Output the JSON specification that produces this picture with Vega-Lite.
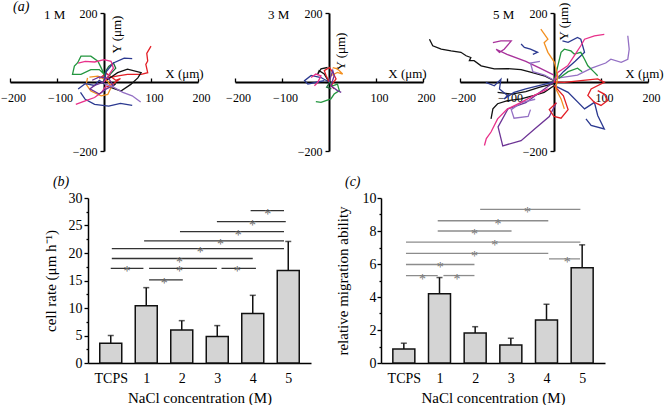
{
  "$schema": "https://vega.github.io/schema/vega-lite/v6.json",
  "padding": {"left": 0, "top": -1, "right": 0, "bottom": 0},
  "bounds": "flush",
  "spacing": 185,
  "config": {
    "view": {"stroke": null},
    "font": "Liberation Serif",
    "axis": {"labelFont": "Liberation Serif", "titleFont": "Liberation Serif", "domainColor": "#000", "tickColor": "#000", "labelColor": "#000", "titleColor": "#000", "grid": false, "titleFontWeight": "normal", "labelOverlap": false, "labelFlush": false, "labelBound": false},
    "text": {"font": "Liberation Serif", "color": "#000"}
  },
  "datasets": {
    "m1": [
      {"t":"r1","k":0,"x":0,"y":0,"c":"red"},{"t":"r1","k":1,"x":8,"y":12,"c":"red"},{"t":"r1","k":2,"x":30,"y":18,"c":"red"},{"t":"r1","k":3,"x":50,"y":22,"c":"red"},{"t":"r1","k":4,"x":79,"y":22,"c":"red"},{"t":"r1","k":5,"x":93,"y":27,"c":"red"},{"t":"r1","k":6,"x":89,"y":51,"c":"red"},{"t":"r1","k":7,"x":93,"y":61,"c":"red"},{"t":"r1","k":8,"x":91,"y":83,"c":"red"},{"t":"r1","k":9,"x":100,"y":104,"c":"red"},
      {"t":"r2","k":0,"x":-10,"y":10,"c":"red"},{"t":"r2","k":1,"x":5,"y":25,"c":"red"},{"t":"r2","k":2,"x":15,"y":15,"c":"red"},{"t":"r2","k":3,"x":25,"y":5,"c":"red"},{"t":"r2","k":4,"x":35,"y":10,"c":"red"},{"t":"r2","k":5,"x":20,"y":-5,"c":"red"},{"t":"r2","k":6,"x":5,"y":-15,"c":"red"},
      {"t":"g1","k":0,"x":4,"y":12,"c":"green"},{"t":"g1","k":1,"x":-6,"y":41,"c":"green"},{"t":"g1","k":2,"x":-13,"y":60,"c":"green"},{"t":"g1","k":3,"x":-28,"y":75,"c":"green"},{"t":"g1","k":4,"x":-49,"y":75,"c":"green"},{"t":"g1","k":5,"x":-56,"y":56,"c":"green"},{"t":"g1","k":6,"x":-63,"y":46,"c":"green"},{"t":"g1","k":7,"x":-67,"y":22,"c":"green"},{"t":"g1","k":8,"x":-49,"y":22,"c":"green"},{"t":"g1","k":9,"x":-28,"y":36,"c":"green"},{"t":"g1","k":10,"x":-10,"y":36,"c":"green"},{"t":"g1","k":11,"x":1,"y":22,"c":"green"},
      {"t":"g2","k":0,"x":0,"y":5,"c":"dgreen"},{"t":"g2","k":1,"x":3,"y":30,"c":"dgreen"},{"t":"g2","k":2,"x":10,"y":45,"c":"dgreen"},{"t":"g2","k":3,"x":20,"y":55,"c":"dgreen"},{"t":"g2","k":4,"x":25,"y":40,"c":"dgreen"},{"t":"g2","k":5,"x":15,"y":25,"c":"dgreen"},{"t":"g2","k":6,"x":8,"y":15,"c":"dgreen"},
      {"t":"k1","k":0,"x":0,"y":0,"c":"black"},{"t":"k1","k":1,"x":29,"y":27,"c":"black"},{"t":"k1","k":2,"x":50,"y":37,"c":"black"},{"t":"k1","k":3,"x":79,"y":27,"c":"black"},{"t":"k1","k":4,"x":72,"y":12,"c":"black"},{"t":"k1","k":5,"x":57,"y":-7,"c":"black"},{"t":"k1","k":6,"x":36,"y":-26,"c":"black"},{"t":"k1","k":7,"x":15,"y":-16,"c":"black"},{"t":"k1","k":8,"x":25,"y":-5,"c":"black"},
      {"t":"o1","k":0,"x":-35,"y":12,"c":"orange"},{"t":"o1","k":1,"x":-38,"y":-7,"c":"orange"},{"t":"o1","k":2,"x":-28,"y":-26,"c":"orange"},{"t":"o1","k":3,"x":-6,"y":-40,"c":"orange"},{"t":"o1","k":4,"x":8,"y":-36,"c":"orange"},{"t":"o1","k":5,"x":15,"y":-16,"c":"orange"},{"t":"o1","k":6,"x":8,"y":3,"c":"orange"},{"t":"o1","k":7,"x":-13,"y":17,"c":"orange"},{"t":"o1","k":8,"x":-31,"y":14,"c":"orange"},
      {"t":"b1","k":0,"x":-50,"y":-30,"c":"blue"},{"t":"b1","k":1,"x":-40,"y":-50,"c":"blue"},{"t":"b1","k":2,"x":-20,"y":-65,"c":"blue"},{"t":"b1","k":3,"x":10,"y":-70,"c":"blue"},{"t":"b1","k":4,"x":35,"y":-62,"c":"blue"},{"t":"b1","k":5,"x":60,"y":-68,"c":"blue"},
      {"t":"b2","k":0,"x":0,"y":0,"c":"blue"},{"t":"b2","k":1,"x":5,"y":30,"c":"blue"},{"t":"b2","k":2,"x":20,"y":55,"c":"blue"},{"t":"b2","k":3,"x":43,"y":69,"c":"blue"},{"t":"b2","k":4,"x":60,"y":68,"c":"blue"},
      {"t":"b3","k":0,"x":-55,"y":-20,"c":"blue"},{"t":"b3","k":1,"x":-40,"y":-5,"c":"blue"},{"t":"b3","k":2,"x":-20,"y":-10,"c":"blue"},{"t":"b3","k":3,"x":-10,"y":5,"c":"blue"},{"t":"b3","k":4,"x":0,"y":-5,"c":"blue"},
      {"t":"p1","k":0,"x":-55,"y":55,"c":"pink"},{"t":"p1","k":1,"x":-40,"y":60,"c":"pink"},{"t":"p1","k":2,"x":-20,"y":58,"c":"pink"},{"t":"p1","k":3,"x":0,"y":65,"c":"pink"},{"t":"p1","k":4,"x":15,"y":60,"c":"pink"},{"t":"p1","k":5,"x":20,"y":40,"c":"pink"},{"t":"p1","k":6,"x":10,"y":20,"c":"pink"},{"t":"p1","k":7,"x":0,"y":0,"c":"pink"},
      {"t":"p2","k":0,"x":-60,"y":-65,"c":"pink"},{"t":"p2","k":1,"x":-40,"y":-55,"c":"pink"},{"t":"p2","k":2,"x":-20,"y":-45,"c":"pink"},{"t":"p2","k":3,"x":-5,"y":-30,"c":"pink"},{"t":"p2","k":4,"x":5,"y":-10,"c":"pink"},
      {"t":"u1","k":0,"x":0,"y":0,"c":"purple"},{"t":"u1","k":1,"x":-20,"y":-10,"c":"purple"},{"t":"u1","k":2,"x":-30,"y":-20,"c":"purple"},{"t":"u1","k":3,"x":-10,"y":-35,"c":"purple"},{"t":"u1","k":4,"x":5,"y":-20,"c":"purple"},{"t":"u1","k":5,"x":20,"y":-10,"c":"purple"},{"t":"u1","k":6,"x":10,"y":10,"c":"purple"},{"t":"u1","k":7,"x":-10,"y":15,"c":"purple"},{"t":"u1","k":8,"x":-25,"y":5,"c":"purple"},
      {"t":"l1","k":0,"x":0,"y":-5,"c":"lavender"},{"t":"l1","k":1,"x":20,"y":-15,"c":"lavender"},{"t":"l1","k":2,"x":40,"y":-30,"c":"lavender"},{"t":"l1","k":3,"x":60,"y":-40,"c":"lavender"},{"t":"l1","k":4,"x":70,"y":-50,"c":"lavender"},{"t":"l1","k":5,"x":78,"y":-58,"c":"lavender"}
    ],
    "m3": [
      {"t":"b1","k":0,"x":0,"y":0,"c":"blue"},{"t":"b1","k":1,"x":-17,"y":13,"c":"blue"},{"t":"b1","k":2,"x":-38,"y":19,"c":"blue"},{"t":"b1","k":3,"x":-52,"y":4,"c":"blue"},{"t":"b1","k":4,"x":-45,"y":-6,"c":"blue"},{"t":"b1","k":5,"x":-24,"y":0,"c":"blue"},{"t":"b1","k":6,"x":-10,"y":4,"c":"blue"},
      {"t":"g1","k":0,"x":0,"y":0,"c":"green"},{"t":"g1","k":1,"x":8,"y":-11,"c":"green"},{"t":"g1","k":2,"x":18,"y":-6,"c":"green"},{"t":"g1","k":3,"x":22,"y":-25,"c":"green"},{"t":"g1","k":4,"x":11,"y":-35,"c":"green"},{"t":"g1","k":5,"x":4,"y":-49,"c":"green"},{"t":"g1","k":6,"x":-17,"y":-59,"c":"green"},{"t":"g1","k":7,"x":-28,"y":-57,"c":"green"},
      {"t":"k1","k":0,"x":0,"y":0,"c":"black"},{"t":"k1","k":1,"x":-10,"y":23,"c":"black"},{"t":"k1","k":2,"x":-21,"y":33,"c":"black"},{"t":"k1","k":3,"x":-24,"y":23,"c":"black"},{"t":"k1","k":4,"x":-17,"y":38,"c":"black"},{"t":"k1","k":5,"x":-3,"y":42,"c":"black"},
      {"t":"o1","k":0,"x":4,"y":18,"c":"orange"},{"t":"o1","k":1,"x":18,"y":28,"c":"orange"},{"t":"o1","k":2,"x":29,"y":23,"c":"orange"},{"t":"o1","k":3,"x":18,"y":38,"c":"orange"},{"t":"o1","k":4,"x":8,"y":42,"c":"orange"},
      {"t":"r1","k":0,"x":0,"y":0,"c":"red"},{"t":"r1","k":1,"x":-6,"y":18,"c":"red"},{"t":"r1","k":2,"x":-10,"y":33,"c":"red"},{"t":"r1","k":3,"x":1,"y":42,"c":"red"},{"t":"r1","k":4,"x":8,"y":28,"c":"red"},{"t":"r1","k":5,"x":15,"y":9,"c":"red"},{"t":"r1","k":6,"x":4,"y":-11,"c":"red"},{"t":"r1","k":7,"x":11,"y":-20,"c":"red"},
      {"t":"p1","k":0,"x":-38,"y":13,"c":"pink"},{"t":"p1","k":1,"x":-28,"y":23,"c":"pink"},{"t":"p1","k":2,"x":-17,"y":18,"c":"pink"},{"t":"p1","k":3,"x":-24,"y":-1,"c":"pink"},{"t":"p1","k":4,"x":-31,"y":-11,"c":"pink"},
      {"t":"u1","k":0,"x":0,"y":0,"c":"purple"},{"t":"u1","k":1,"x":8,"y":33,"c":"purple"},{"t":"u1","k":2,"x":11,"y":18,"c":"purple"},{"t":"u1","k":3,"x":4,"y":-11,"c":"purple"},{"t":"u1","k":4,"x":18,"y":-25,"c":"purple"},{"t":"u1","k":5,"x":26,"y":-30,"c":"purple"},
      {"t":"g2","k":0,"x":0,"y":-5,"c":"dgreen"},{"t":"g2","k":1,"x":-5,"y":-15,"c":"dgreen"},{"t":"g2","k":2,"x":5,"y":-20,"c":"dgreen"}
    ],
    "m5": [
      {"t":"k1","k":0,"x":-265,"y":124,"c":"black"},{"t":"k1","k":1,"x":-258,"y":105,"c":"black"},{"t":"k1","k":2,"x":-240,"y":95,"c":"black"},{"t":"k1","k":3,"x":-219,"y":90,"c":"black"},{"t":"k1","k":4,"x":-198,"y":86,"c":"black"},{"t":"k1","k":5,"x":-187,"y":76,"c":"black"},{"t":"k1","k":6,"x":-177,"y":71,"c":"black"},{"t":"k1","k":7,"x":-180,"y":62,"c":"black"},{"t":"k1","k":8,"x":-170,"y":62,"c":"black"},{"t":"k1","k":9,"x":-155,"y":47,"c":"black"},{"t":"k1","k":10,"x":-127,"y":38,"c":"black"},{"t":"k1","k":11,"x":-99,"y":39,"c":"black"},{"t":"k1","k":12,"x":-70,"y":36,"c":"black"},{"t":"k1","k":13,"x":-42,"y":26,"c":"black"},{"t":"k1","k":14,"x":-21,"y":18,"c":"black"},{"t":"k1","k":15,"x":0,"y":4,"c":"black"},
      {"t":"k2","k":0,"x":-134,"y":-107,"c":"black"},{"t":"k2","k":1,"x":-130,"y":-78,"c":"black"},{"t":"k2","k":2,"x":-120,"y":-63,"c":"black"},{"t":"k2","k":3,"x":-99,"y":-54,"c":"black"},{"t":"k2","k":4,"x":-70,"y":-49,"c":"black"},{"t":"k2","k":5,"x":-42,"y":-39,"c":"black"},{"t":"k2","k":6,"x":-21,"y":-30,"c":"black"},{"t":"k2","k":7,"x":0,"y":-11,"c":"black"},
      {"t":"k3","k":0,"x":-120,"y":-30,"c":"black"},{"t":"k3","k":1,"x":-90,"y":-35,"c":"black"},{"t":"k3","k":2,"x":-60,"y":-28,"c":"black"},{"t":"k3","k":3,"x":-30,"y":-15,"c":"black"},{"t":"k3","k":4,"x":0,"y":-5,"c":"black"},
      {"t":"b1","k":0,"x":-145,"y":-1,"c":"blue"},{"t":"b1","k":1,"x":-127,"y":-11,"c":"blue"},{"t":"b1","k":2,"x":-113,"y":8,"c":"blue"},{"t":"b1","k":3,"x":-116,"y":-20,"c":"blue"},{"t":"b1","k":4,"x":-99,"y":-39,"c":"blue"},{"t":"b1","k":5,"x":-106,"y":-49,"c":"blue"},{"t":"b1","k":6,"x":-85,"y":-30,"c":"blue"},{"t":"b1","k":7,"x":-60,"y":-20,"c":"blue"},{"t":"b1","k":8,"x":-30,"y":-10,"c":"blue"},{"t":"b1","k":9,"x":0,"y":0,"c":"blue"},
      {"t":"b2","k":0,"x":-70,"y":110,"c":"blue"},{"t":"b2","k":1,"x":-63,"y":100,"c":"blue"},{"t":"b2","k":2,"x":-50,"y":95,"c":"blue"},{"t":"b2","k":3,"x":-35,"y":86,"c":"blue"},{"t":"b2","k":4,"x":-45,"y":80,"c":"blue"},
      {"t":"b3","k":0,"x":0,"y":0,"c":"blue"},{"t":"b3","k":1,"x":20,"y":30,"c":"blue"},{"t":"b3","k":2,"x":45,"y":60,"c":"blue"},{"t":"b3","k":3,"x":65,"y":86,"c":"blue"},{"t":"b3","k":4,"x":57,"y":124,"c":"blue"},{"t":"b3","k":5,"x":50,"y":129,"c":"blue"},{"t":"b3","k":6,"x":30,"y":115,"c":"blue"},{"t":"b3","k":7,"x":18,"y":119,"c":"blue"},
      {"t":"b4","k":0,"x":0,"y":-10,"c":"blue"},{"t":"b4","k":1,"x":30,"y":-30,"c":"blue"},{"t":"b4","k":2,"x":65,"y":-78,"c":"blue"},{"t":"b4","k":3,"x":86,"y":-59,"c":"blue"},{"t":"b4","k":4,"x":93,"y":-97,"c":"blue"},{"t":"b4","k":5,"x":107,"y":-136,"c":"blue"},{"t":"b4","k":6,"x":79,"y":-126,"c":"blue"},{"t":"b4","k":7,"x":68,"y":-107,"c":"blue"},
      {"t":"m1","k":0,"x":-130,"y":114,"c":"magenta"},{"t":"m1","k":1,"x":-113,"y":119,"c":"magenta"},{"t":"m1","k":2,"x":-91,"y":119,"c":"magenta"},{"t":"m1","k":3,"x":-106,"y":95,"c":"magenta"},{"t":"m1","k":4,"x":-116,"y":86,"c":"magenta"},{"t":"m1","k":5,"x":-123,"y":95,"c":"magenta"},{"t":"m1","k":6,"x":-100,"y":80,"c":"magenta"},{"t":"m1","k":7,"x":-60,"y":60,"c":"magenta"},{"t":"m1","k":8,"x":-30,"y":40,"c":"magenta"},{"t":"m1","k":9,"x":0,"y":20,"c":"magenta"},
      {"t":"u1","k":0,"x":0,"y":0,"c":"purple"},{"t":"u1","k":1,"x":-30,"y":-30,"c":"purple"},{"t":"u1","k":2,"x":-60,"y":-60,"c":"purple"},{"t":"u1","k":3,"x":-98,"y":-78,"c":"purple"},{"t":"u1","k":4,"x":-119,"y":-130,"c":"purple"},{"t":"u1","k":5,"x":-109,"y":-185,"c":"purple"},{"t":"u1","k":6,"x":-70,"y":-170,"c":"purple"},{"t":"u1","k":7,"x":-40,"y":-135,"c":"purple"},{"t":"u1","k":8,"x":-10,"y":-100,"c":"purple"},{"t":"u1","k":9,"x":5,"y":-60,"c":"purple"},
      {"t":"l2","k":0,"x":-40,"y":-50,"c":"lavender"},{"t":"l2","k":1,"x":-70,"y":-60,"c":"lavender"},{"t":"l2","k":2,"x":-91,"y":-80,"c":"lavender"},{"t":"l2","k":3,"x":-85,"y":-105,"c":"lavender"},{"t":"l2","k":4,"x":-55,"y":-100,"c":"lavender"},{"t":"l2","k":5,"x":-50,"y":-80,"c":"lavender"},
      {"t":"l1","k":0,"x":0,"y":10,"c":"lavender"},{"t":"l1","k":1,"x":50,"y":20,"c":"lavender"},{"t":"l1","k":2,"x":80,"y":40,"c":"lavender"},{"t":"l1","k":3,"x":110,"y":55,"c":"lavender"},{"t":"l1","k":4,"x":121,"y":66,"c":"lavender"},{"t":"l1","k":5,"x":143,"y":57,"c":"lavender"},{"t":"l1","k":6,"x":157,"y":66,"c":"lavender"},{"t":"l1","k":7,"x":160,"y":95,"c":"lavender"},{"t":"l1","k":8,"x":157,"y":134,"c":"lavender"},
      {"t":"l3","k":0,"x":-30,"y":60,"c":"lavender"},{"t":"l3","k":1,"x":-50,"y":55,"c":"lavender"},{"t":"l3","k":2,"x":-45,"y":30,"c":"lavender"},{"t":"l3","k":3,"x":-20,"y":20,"c":"lavender"},{"t":"l3","k":4,"x":0,"y":5,"c":"lavender"},
      {"t":"g1","k":0,"x":0,"y":0,"c":"green"},{"t":"g1","k":1,"x":15,"y":86,"c":"green"},{"t":"g1","k":2,"x":22,"y":95,"c":"green"},{"t":"g1","k":3,"x":36,"y":90,"c":"green"},{"t":"g1","k":4,"x":43,"y":81,"c":"green"},{"t":"g1","k":5,"x":57,"y":86,"c":"green"},{"t":"g1","k":6,"x":65,"y":66,"c":"green"},{"t":"g1","k":7,"x":72,"y":47,"c":"green"},{"t":"g1","k":8,"x":86,"y":28,"c":"green"},{"t":"g1","k":9,"x":93,"y":18,"c":"green"},
      {"t":"g2","k":0,"x":10,"y":10,"c":"green"},{"t":"g2","k":1,"x":30,"y":30,"c":"green"},{"t":"g2","k":2,"x":50,"y":40,"c":"green"},{"t":"g2","k":3,"x":60,"y":30,"c":"green"},
      {"t":"p1","k":0,"x":0,"y":0,"c":"pink"},{"t":"p1","k":1,"x":8,"y":28,"c":"pink"},{"t":"p1","k":2,"x":29,"y":47,"c":"pink"},{"t":"p1","k":3,"x":43,"y":76,"c":"pink"},{"t":"p1","k":4,"x":57,"y":105,"c":"pink"},{"t":"p1","k":5,"x":65,"y":124,"c":"pink"},{"t":"p1","k":6,"x":86,"y":134,"c":"pink"},{"t":"p1","k":7,"x":107,"y":138,"c":"pink"},
      {"t":"p2","k":0,"x":-148,"y":-184,"c":"pink"},{"t":"p2","k":1,"x":-144,"y":-164,"c":"pink"},{"t":"p2","k":2,"x":-134,"y":-145,"c":"pink"},{"t":"p2","k":3,"x":-120,"y":-107,"c":"pink"},{"t":"p2","k":4,"x":-99,"y":-78,"c":"pink"},{"t":"p2","k":5,"x":-70,"y":-59,"c":"pink"},{"t":"p2","k":6,"x":-42,"y":-39,"c":"pink"},{"t":"p2","k":7,"x":-13,"y":-20,"c":"pink"},
      {"t":"r1","k":0,"x":0,"y":0,"c":"red"},{"t":"r1","k":1,"x":22,"y":-1,"c":"red"},{"t":"r1","k":2,"x":57,"y":4,"c":"red"},{"t":"r1","k":3,"x":93,"y":9,"c":"red"},{"t":"r1","k":4,"x":107,"y":-1,"c":"red"},{"t":"r1","k":5,"x":79,"y":-20,"c":"red"},{"t":"r1","k":6,"x":72,"y":-39,"c":"red"},{"t":"r1","k":7,"x":86,"y":-59,"c":"red"},{"t":"r1","k":8,"x":100,"y":-68,"c":"red"},{"t":"r1","k":9,"x":114,"y":-54,"c":"red"},{"t":"r1","k":10,"x":107,"y":-35,"c":"red"},{"t":"r1","k":11,"x":93,"y":-25,"c":"red"},
      {"t":"r2","k":0,"x":0,"y":-10,"c":"red"},{"t":"r2","k":1,"x":20,"y":-40,"c":"red"},{"t":"r2","k":2,"x":30,"y":-80,"c":"red"},{"t":"r2","k":3,"x":15,"y":-105,"c":"red"},{"t":"r2","k":4,"x":0,"y":-100,"c":"red"},{"t":"r2","k":5,"x":-10,"y":-80,"c":"red"},{"t":"r2","k":6,"x":5,"y":-60,"c":"red"},
      {"t":"o1","k":0,"x":-28,"y":153,"c":"orange"},{"t":"o1","k":1,"x":-13,"y":124,"c":"orange"},{"t":"o1","k":2,"x":-21,"y":114,"c":"orange"},{"t":"o1","k":3,"x":-13,"y":86,"c":"orange"},{"t":"o1","k":4,"x":1,"y":57,"c":"orange"},{"t":"o1","k":5,"x":8,"y":18,"c":"orange"},{"t":"o1","k":6,"x":4,"y":-20,"c":"orange"},{"t":"o1","k":7,"x":15,"y":-49,"c":"orange"},{"t":"o1","k":8,"x":22,"y":-78,"c":"orange"}
    ],
    "bbar": [
      {"i":0,"v":3.6,"e":5.0},{"i":1,"v":10.4,"e":13.7},{"i":2,"v":6.0,"e":7.7},{"i":3,"v":4.8,"e":6.8},{"i":4,"v":9.0,"e":12.3},{"i":5,"v":16.8,"e":22.1}
    ],
    "bsig": [
      {"x1":0,"x2":0.92,"y":17.2,"sx":0.46},{"x1":1.08,"x2":2.03,"y":15.1,"sx":1.51},{"x1":1.08,"x2":2.99,"y":17.2,"sx":1.94},{"x1":3.12,"x2":4.09,"y":17.2,"sx":3.56},{"x1":0.03,"x2":4.0,"y":19.0,"sx":1.94},{"x1":0.03,"x2":4.88,"y":20.8,"sx":2.52},{"x1":0.94,"x2":4.88,"y":22.2,"sx":3.09},{"x1":1.95,"x2":4.88,"y":23.9,"sx":3.59},{"x1":2.99,"x2":4.93,"y":25.7,"sx":3.99},{"x1":3.94,"x2":4.88,"y":27.7,"sx":4.42}
    ],
    "cbar": [
      {"i":0,"v":0.85,"e":1.2},{"i":1,"v":4.19,"e":5.18},{"i":2,"v":1.82,"e":2.2},{"i":3,"v":1.09,"e":1.5},{"i":4,"v":2.61,"e":3.56},{"i":5,"v":5.77,"e":7.16}
    ],
    "csig": [
      {"x1":0.06,"x2":0.95,"y":5.3,"sx":0.52},{"x1":1.11,"x2":1.98,"y":5.3,"sx":1.49},{"x1":0.06,"x2":1.98,"y":5.97,"sx":1.02},{"x1":0.06,"x2":4.05,"y":6.64,"sx":1.98},{"x1":0.06,"x2":4.95,"y":7.33,"sx":2.55},{"x1":0.95,"x2":3.02,"y":8.0,"sx":1.98},{"x1":0.95,"x2":4.05,"y":8.62,"sx":2.64},{"x1":2.14,"x2":4.95,"y":9.31,"sx":3.47},{"x1":4.07,"x2":4.94,"y":6.31,"sx":4.58}
    ]
  },
  "vconcat": [
    {
      "bounds": "flush",
      "spacing": 37,
      "hconcat": [
        {
          "width": 188, "height": 138,
          "layer": [
            {"data": {"name": "m1"},
              "mark": {"type": "line", "strokeWidth": 1.3},
              "encoding": {
                "x": {"field": "x", "type": "quantitative", "scale": {"domain": [-200, 200], "nice": false, "zero": false},
                  "axis": {"orient": "bottom", "offset": -69, "values": [-200,-150,-100,-50,0,50,100,150,200], "labelExpr": "datum.value % 100 === 0 && datum.value !== 0 ? format(datum.value, 'd') : ''", "labelOverlap": false, "labelOffset": 3, "tickSize": -4, "tickWidth": 1.3, "domainWidth": 2, "labelPadding": 14, "labelFontSize": 12, "title": "X (μm)", "titleFontSize": 13, "titleX": 174, "titleY": -9, "titleAlign": "center", "titleBaseline": "middle", "titleAngle": 0}},
                "y": {"field": "y", "type": "quantitative", "scale": {"domain": [-200, 200], "nice": false, "zero": false},
                  "axis": {"orient": "left", "offset": -94, "values": [-200,-150,-100,-50,0,50,100,150,200], "labelExpr": "datum.value % 100 === 0 && datum.value !== 0 ? format(datum.value, 'd') : ''", "labelOverlap": false, "tickSize": 4, "tickWidth": 1.3, "domainWidth": 2, "labelPadding": 3, "labelFontSize": 12, "title": "Y (μm)", "titleFontSize": 13, "titleAngle": -90, "titleX": 12, "titleY": 21, "titleAlign": "center", "titleBaseline": "middle"}},
                "detail": {"field": "t"},
                "order": {"field": "k", "type": "quantitative"},
                "color": {"field": "c", "type": "nominal", "legend": null, "scale": {"domain": ["red","green","dgreen","black","orange","blue","pink","purple","lavender","magenta"], "range": ["#e31f26","#23963f","#1d6e3a","#111111","#f39020","#2b3990","#e8318a","#6d3495","#9470c4","#a8329b"]}}
              }},
            {"data": {"values": [{}]}, "mark": {"type": "text", "text": "(a)", "fontSize": 14, "fontStyle": "italic", "align": "left", "baseline": "alphabetic"},
              "encoding": {"x": {"datum": -193.6}, "y": {"datum": 206}}},
            {"data": {"values": [{}]}, "mark": {"type": "text", "text": "1 M", "fontSize": 13, "align": "left", "baseline": "alphabetic"},
              "encoding": {"x": {"datum": -127.7}, "y": {"datum": 182.6}}}
          ]
        },
        {
          "width": 188, "height": 138,
          "layer": [
            {"data": {"name": "m3"},
              "mark": {"type": "line", "strokeWidth": 1.3},
              "encoding": {
                "x": {"field": "x", "type": "quantitative", "scale": {"domain": [-200, 200], "nice": false, "zero": false},
                  "axis": {"orient": "bottom", "offset": -69, "values": [-200,-150,-100,-50,0,50,100,150,200], "labelExpr": "datum.value % 100 === 0 && datum.value !== 0 ? format(datum.value, 'd') : ''", "labelOverlap": false, "labelOffset": 3, "tickSize": -4, "tickWidth": 1.3, "domainWidth": 2, "labelPadding": 14, "labelFontSize": 12, "title": "X (μm)", "titleFontSize": 13, "titleX": 172, "titleY": -9, "titleAlign": "center", "titleBaseline": "middle", "titleAngle": 0}},
                "y": {"field": "y", "type": "quantitative", "scale": {"domain": [-200, 200], "nice": false, "zero": false},
                  "axis": {"orient": "left", "offset": -94, "values": [-200,-150,-100,-50,0,50,100,150,200], "labelExpr": "datum.value % 100 === 0 && datum.value !== 0 ? format(datum.value, 'd') : ''", "labelOverlap": false, "tickSize": 4, "tickWidth": 1.3, "domainWidth": 2, "labelPadding": 3, "labelFontSize": 12, "title": "Y (μm)", "titleFontSize": 13, "titleAngle": -90, "titleX": 11, "titleY": 38, "titleAlign": "center", "titleBaseline": "middle"}},
                "detail": {"field": "t"},
                "order": {"field": "k", "type": "quantitative"},
                "color": {"field": "c", "type": "nominal", "legend": null, "scale": {"domain": ["red","green","dgreen","black","orange","blue","pink","purple","lavender","magenta"], "range": ["#e31f26","#23963f","#1d6e3a","#111111","#f39020","#2b3990","#e8318a","#6d3495","#9470c4","#a8329b"]}}
              }},
            {"data": {"values": [{}]}, "mark": {"type": "text", "text": "3 M", "fontSize": 13, "align": "left", "baseline": "alphabetic"},
              "encoding": {"x": {"datum": -129.8}, "y": {"datum": 182.6}}}
          ]
        },
        {
          "width": 188, "height": 138,
          "layer": [
            {"data": {"name": "m5"},
              "mark": {"type": "line", "strokeWidth": 1.3},
              "encoding": {
                "x": {"field": "x", "type": "quantitative", "scale": {"domain": [-200, 200], "nice": false, "zero": false},
                  "axis": {"orient": "bottom", "offset": -69, "values": [-200,-150,-100,-50,0,50,100,150,200], "labelExpr": "datum.value % 100 === 0 && datum.value !== 0 ? format(datum.value, 'd') : ''", "labelOverlap": false, "labelOffset": 3, "tickSize": -4, "tickWidth": 1.3, "domainWidth": 2, "labelPadding": 14, "labelFontSize": 12, "title": "X (μm)", "titleFontSize": 13, "titleX": 184, "titleY": -9, "titleAlign": "center", "titleBaseline": "middle", "titleAngle": 0}},
                "y": {"field": "y", "type": "quantitative", "scale": {"domain": [-200, 200], "nice": false, "zero": false},
                  "axis": {"orient": "left", "offset": -94, "values": [-200,-150,-100,-50,0,50,100,150,200], "labelExpr": "datum.value % 100 === 0 && datum.value !== 0 ? format(datum.value, 'd') : ''", "labelOverlap": false, "tickSize": 4, "tickWidth": 1.3, "domainWidth": 2, "labelPadding": 3, "labelFontSize": 12, "title": "Y (μm)", "titleFontSize": 13, "titleAngle": -90, "titleX": 9, "titleY": 8, "titleAlign": "center", "titleBaseline": "middle"}},
                "detail": {"field": "t"},
                "order": {"field": "k", "type": "quantitative"},
                "color": {"field": "c", "type": "nominal", "legend": null, "scale": {"domain": ["red","green","dgreen","black","orange","blue","pink","purple","lavender","magenta"], "range": ["#e31f26","#23963f","#1d6e3a","#111111","#f39020","#2b3990","#e8318a","#6d3495","#9470c4","#a8329b"]}}
              }},
            {"data": {"values": [{}]}, "mark": {"type": "text", "text": "5 M", "fontSize": 13, "align": "left", "baseline": "alphabetic"},
              "encoding": {"x": {"datum": -129.8}, "y": {"datum": 182.6}}}
          ]
        }
      ]
    },
    {
      "bounds": "flush",
      "spacing": 70,
      "hconcat": [
        {"width": 8, "height": 10, "data": {"values": []}, "mark": "point", "encoding": {}},
        {
          "width": 223, "height": 165,
          "resolve": {"axis": {"y": "independent"}},
          "layer": [
            {"data": {"name": "bbar"}, "mark": {"type": "bar", "width": 22, "orient": "vertical", "fill": "#d4d4d4", "stroke": "#111", "strokeWidth": 1.5},
              "encoding": {
                "x": {"field": "i", "type": "quantitative", "scale": {"domain": [-0.5, 5.5], "nice": false, "zero": false},
                  "axis": {"values": [0,1,2,3,4,5], "labelExpr": "datum.value === 0 ? 'TCPS' : datum.label", "labelOverlap": false, "ticks": false, "domainWidth": 1.5, "labelPadding": 8, "labelFontSize": 14, "title": "NaCl concentration (M)", "titleFontSize": 15, "titleX": 111.5, "titleY": 39, "titleAlign": "center", "titleBaseline": "alphabetic"}},
                "y": {"field": "v", "type": "quantitative", "scale": {"domain": [0, 30], "nice": false},
                  "axis": {"orient": "left", "values": [0,5,10,15,20,25,30], "labelOverlap": false, "tickSize": 4, "tickWidth": 1.3, "domainWidth": 1.5, "labelPadding": 2, "labelFontSize": 14, "title": "cell rate (μm h⁻¹)", "titleFontSize": 15, "titleAngle": -90, "titleX": -38, "titleY": 82.5, "titleAlign": "center", "titleBaseline": "middle"}}
              }},
            {"data": {"name": "bbar"}, "mark": {"type": "rule", "stroke": "#111", "strokeWidth": 1.5},
              "encoding": {"x": {"field": "i", "type": "quantitative"},
                "y": {"field": "v", "type": "quantitative", "axis": {"orient": "left", "values": [2.5,7.5,12.5,17.5,22.5,27.5], "labels": false, "domain": false, "tickSize": 2, "tickWidth": 1.3, "title": null}},
                "y2": {"field": "e"}}},
            {"data": {"name": "bbar"}, "mark": {"type": "tick", "orient": "horizontal", "size": 6, "thickness": 1.5, "color": "#111"},
              "encoding": {"x": {"field": "i", "type": "quantitative"}, "y": {"field": "e", "type": "quantitative", "axis": null}}},
            {"data": {"name": "bsig"}, "mark": {"type": "rule", "stroke": "#333", "strokeWidth": 1.3},
              "encoding": {"x": {"field": "x1", "type": "quantitative"}, "x2": {"field": "x2"}, "y": {"field": "y", "type": "quantitative", "axis": null}}},
            {"data": {"name": "bsig"}, "mark": {"type": "text", "text": "*", "fontSize": 14, "dy": 8, "fill": "#666666", "baseline": "alphabetic"},
              "encoding": {"x": {"field": "sx", "type": "quantitative"}, "y": {"field": "y", "type": "quantitative", "axis": null}}},
            {"data": {"values": [{}]}, "mark": {"type": "text", "text": "(b)", "fontSize": 14, "fontStyle": "italic", "align": "left", "baseline": "alphabetic"},
              "encoding": {"x": {"datum": -1.63}, "y": {"datum": 32.2, "axis": null}}}
          ]
        },
        {
          "width": 224, "height": 165,
          "resolve": {"axis": {"y": "independent"}},
          "layer": [
            {"data": {"name": "cbar"}, "mark": {"type": "bar", "width": 22, "orient": "vertical", "fill": "#d4d4d4", "stroke": "#111", "strokeWidth": 1.5},
              "encoding": {
                "x": {"field": "i", "type": "quantitative", "scale": {"domain": [-0.5, 5.5], "nice": false, "zero": false},
                  "axis": {"values": [0,1,2,3,4,5], "labelExpr": "datum.value === 0 ? 'TCPS' : datum.label", "labelOverlap": false, "ticks": false, "domainWidth": 1.5, "labelPadding": 8, "labelFontSize": 14, "title": "NaCl concentration (M)", "titleFontSize": 15, "titleX": 112, "titleY": 39, "titleAlign": "center", "titleBaseline": "alphabetic"}},
                "y": {"field": "v", "type": "quantitative", "scale": {"domain": [0, 10], "nice": false},
                  "axis": {"orient": "left", "values": [0,2,4,6,8,10], "labelOverlap": false, "tickSize": 4, "tickWidth": 1.3, "domainWidth": 1.5, "labelPadding": 1, "labelFontSize": 14, "title": "relative migration ability", "titleFontSize": 15, "titleAngle": -90, "titleX": -39, "titleY": 82.5, "titleAlign": "center", "titleBaseline": "middle"}}
              }},
            {"data": {"name": "cbar"}, "mark": {"type": "rule", "stroke": "#111", "strokeWidth": 1.5},
              "encoding": {"x": {"field": "i", "type": "quantitative"},
                "y": {"field": "v", "type": "quantitative", "axis": {"orient": "left", "values": [1,3,5,7,9], "labels": false, "domain": false, "tickSize": 2, "tickWidth": 1.3, "title": null}},
                "y2": {"field": "e"}}},
            {"data": {"name": "cbar"}, "mark": {"type": "tick", "orient": "horizontal", "size": 6, "thickness": 1.5, "color": "#111"},
              "encoding": {"x": {"field": "i", "type": "quantitative"}, "y": {"field": "e", "type": "quantitative", "axis": null}}},
            {"data": {"name": "csig"}, "mark": {"type": "rule", "stroke": "#8c8c8c", "strokeWidth": 1.3},
              "encoding": {"x": {"field": "x1", "type": "quantitative"}, "x2": {"field": "x2"}, "y": {"field": "y", "type": "quantitative", "axis": null}}},
            {"data": {"name": "csig"}, "mark": {"type": "text", "text": "*", "fontSize": 14, "dy": 8, "fill": "#777777", "baseline": "alphabetic"},
              "encoding": {"x": {"field": "sx", "type": "quantitative"}, "y": {"field": "y", "type": "quantitative", "axis": null}}},
            {"data": {"values": [{}]}, "mark": {"type": "text", "text": "(c)", "fontSize": 14, "fontStyle": "italic", "align": "left", "baseline": "alphabetic"},
              "encoding": {"x": {"datum": -1.65}, "y": {"datum": 10.73, "axis": null}}}
          ]
        }
      ]
    }
  ]
}
